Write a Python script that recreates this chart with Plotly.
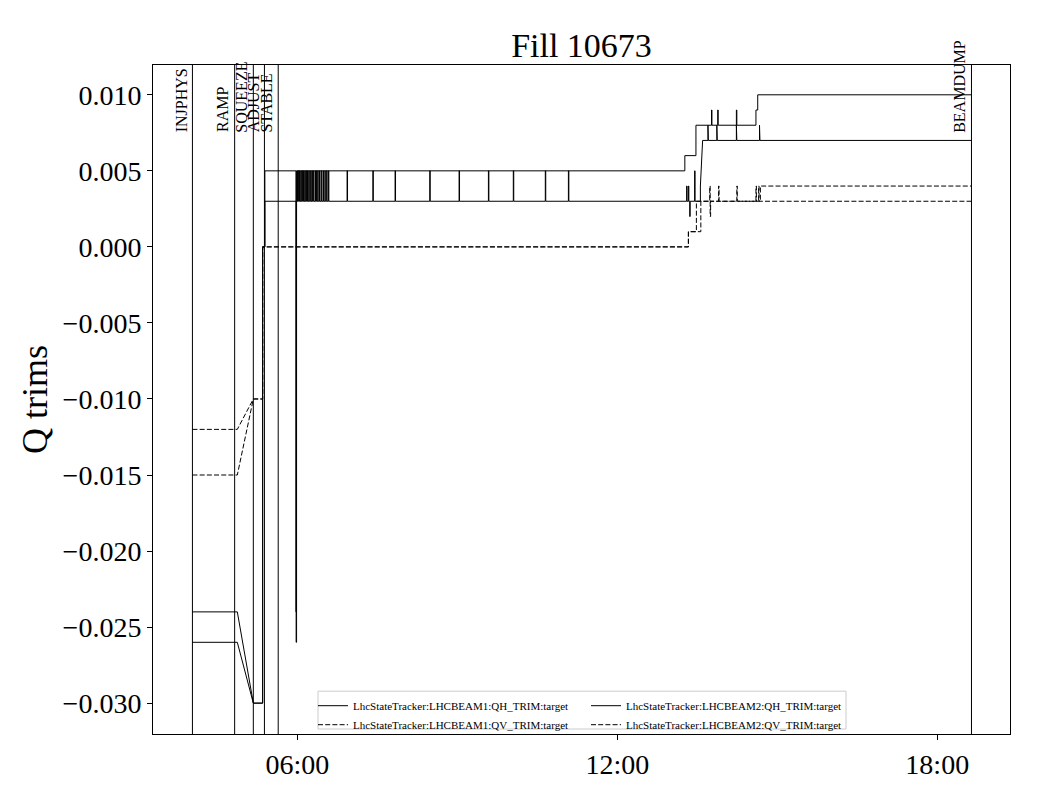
import numpy as np
import pandas as pd
import plotly.graph_objects as go

# ---------------- data ----------------
DATE = "2025-05-26"
TITLE = "Fill 10673"
Y_LABEL = "Q trims"

PHASE_NAMES = ["INJPHYS", "RAMP", "SQUEEZE", "ADJUST", "STABLE", "BEAMDUMP"]
PHASE_TIMES = ["04:02:00", "04:49:30", "05:10:30", "05:23:00", "05:38:30", "18:38:30"]

NAME_B1_QH = "LhcStateTracker:LHCBEAM1:QH_TRIM:target"
NAME_B1_QV = "LhcStateTracker:LHCBEAM1:QV_TRIM:target"
NAME_B2_QH = "LhcStateTracker:LHCBEAM2:QH_TRIM:target"
NAME_B2_QV = "LhcStateTracker:LHCBEAM2:QV_TRIM:target"

# knots (time, value), drawn with straight segments; a repeated time is a step
B1_QH_T = ["04:02:00", "04:52:30", "05:10:30", "05:21:00", "05:21:00", "05:23:30", "05:23:30",
           "13:16:00", "13:16:00", "13:28:30", "13:28:30", "14:36:00", "14:36:00",
           "14:38:00", "14:38:00", "18:38:30"]
B1_QH_V = [-0.024, -0.024, -0.030, -0.030, 0.000, 0.000, 0.005,
           0.005, 0.006, 0.006, 0.008, 0.008, 0.009,
           0.009, 0.010, 0.010]
B1_QH_SPIKE_T = ["05:58:30", "13:46:00", "13:53:00", "14:14:00"]
B1_QH_SPIKE_V = [-0.024, 0.009, 0.009, 0.009]

B2_QH_T = ["04:02:00", "04:52:30", "05:10:30", "05:21:00", "05:21:00", "05:23:30", "05:23:30",
           "13:33:30", "13:33:30", "13:36:00", "18:38:30"]
B2_QH_V = [-0.026, -0.026, -0.030, -0.030, 0.000, 0.000, 0.003,
           0.003, 0.004, 0.007, 0.007]
B2_QH_SPIKE_T = ["05:58:40", "05:59:40", "06:01:00", "06:02:30", "06:04:00", "06:05:30",
                 "06:07:00", "06:08:30", "06:10:00", "06:11:30", "06:13:00", "06:15:00",
                 "06:16:30", "06:18:00", "06:20:00", "06:21:30", "06:23:00", "06:25:00",
                 "06:27:00", "06:29:00", "06:31:00", "06:33:00", "06:35:00",
                 "06:56:00", "07:25:00", "07:50:00", "08:29:00", "09:02:00", "09:35:00",
                 "10:03:00", "10:39:00", "11:05:00",
                 "13:18:00", "13:20:00", "13:21:30", "13:27:00",
                 "13:42:00", "13:52:00", "14:14:00", "14:40:00"]
B2_QH_SPIKE_V = [-0.026, 0.005, 0.005, 0.005, 0.005, 0.005,
                 0.005, 0.005, 0.005, 0.005, 0.005, 0.005,
                 0.005, 0.005, 0.005, 0.005, 0.005, 0.005,
                 0.005, 0.005, 0.005, 0.005, 0.005,
                 0.005, 0.005, 0.005, 0.005, 0.005, 0.005,
                 0.005, 0.005, 0.005,
                 0.004, 0.004, 0.002, 0.005,
                 0.008, 0.008, 0.008, 0.008]

B1_QV_T = ["04:02:00", "04:52:30", "05:10:30", "05:21:00", "05:21:00",
           "13:20:00", "13:20:00", "13:29:00", "13:29:00", "14:41:00", "14:41:00", "18:38:30"]
B1_QV_V = [-0.012, -0.012, -0.010, -0.010, 0.000,
           0.000, 0.001, 0.001, 0.003, 0.003, 0.004, 0.004]
B1_QV_SPIKE_T = ["13:44:00", "13:54:00", "14:14:30", "14:36:00"]
B1_QV_SPIKE_V = [0.004, 0.004, 0.004, 0.004]

B2_QV_T = ["04:02:00", "04:52:30", "05:10:30", "05:21:00", "05:21:00",
           "13:20:00", "13:20:00", "13:34:00", "13:34:00", "18:38:30"]
B2_QV_V = [-0.015, -0.015, -0.010, -0.010, 0.000,
           0.000, 0.001, 0.001, 0.003, 0.003]
B2_QV_SPIKE_T = ["13:44:30", "14:39:00"]
B2_QV_SPIKE_V = [0.002, 0.004]

X_RANGE = ["03:17:38", "19:21:50"]
Y_RANGE = [-0.03203, 0.01196]
Y_TICKS = [-0.030, -0.025, -0.020, -0.015, -0.010, -0.005, 0.000, 0.005, 0.010]
LABEL_Y = 0.00740


def ts(s):
    return pd.Timestamp(f"{DATE} {s}")


def build(knot_t, knot_v, spike_t, spike_v, width_s=30):
    kt = [ts(s) for s in knot_t]
    pts = [(t, v, i) for i, (t, v) in enumerate(zip(kt, knot_v))]
    kx = np.array([t.value for t in kt], dtype=float)
    kv = np.array(knot_v, dtype=float)
    for j, (s, sv) in enumerate(zip(spike_t, spike_v)):
        t0 = ts(s)
        t1 = t0 + pd.Timedelta(seconds=width_s)
        base = float(np.interp(t0.value, kx, kv))
        for k, (t, v) in enumerate([(t0, base), (t0, sv), (t1, sv), (t1, base)]):
            pts.append((t, v, 1000 + j * 10 + k))
    pts.sort(key=lambda p: (p[0], p[2]))
    return [p[0] for p in pts], [p[1] for p in pts]


SERIES = [
    (NAME_B1_QH, B1_QH_T, B1_QH_V, B1_QH_SPIKE_T, B1_QH_SPIKE_V, "solid", "legend"),
    (NAME_B1_QV, B1_QV_T, B1_QV_V, B1_QV_SPIKE_T, B1_QV_SPIKE_V, "5px,2.2px", "legend"),
    (NAME_B2_QH, B2_QH_T, B2_QH_V, B2_QH_SPIKE_T, B2_QH_SPIKE_V, "solid", "legend2"),
    (NAME_B2_QV, B2_QV_T, B2_QV_V, B2_QV_SPIKE_T, B2_QV_SPIKE_V, "5px,2.2px", "legend2"),
]

FONT = "Liberation Serif"

fig = go.Figure()
for name, kt, kv, st, sv, dash, leg in SERIES:
    x, y = build(kt, kv, st, sv)
    fig.add_trace(go.Scatter(x=x, y=y, mode="lines", name=name, legend=leg,
                             line=dict(color="black", width=1, dash=dash)))

shapes = []
annotations = []
for name, t in zip(PHASE_NAMES, PHASE_TIMES):
    shapes.append(dict(type="line", xref="x", yref="paper", x0=ts(t), x1=ts(t), y0=0, y1=1,
                       line=dict(color="black", width=1), layer="above"))
    annotations.append(dict(x=ts(t), y=LABEL_Y, xref="x", yref="y", text=name, textangle=-90,
                            xanchor="right", yanchor="bottom", showarrow=False, xshift=-1,
                            font=dict(family=FONT, size=16, color="black")))

# the page body adds an 8 px offset; the figure is sized so that the plot area
# lands at x 153..1010, y 65..737 of the 1040x800 window
OFF = 8
W, H = 1024, 784
ML, MR, MT, MB = 153 - OFF, 22, 65 - OFF, 55
PW, PH = W - ML - MR, H - MT - MB


def px_x(p):
    return (p - OFF - ML) / PW


def px_y(p):
    return (H - MB - (p - OFF)) / PH


# legend frame
shapes.append(dict(type="rect", xref="paper", yref="paper",
                   x0=px_x(318), x1=px_x(846), y0=px_y(732), y1=px_y(694),
                   line=dict(color="#cccccc", width=1), fillcolor="rgba(255,255,255,0.85)",
                   layer="above"))

LEG_FONT = dict(family=FONT, size=11, color="black")
fig.update_layout(
    width=W, height=H,
    margin=dict(l=ML, r=MR, t=MT, b=MB),
    paper_bgcolor="white", plot_bgcolor="white",
    font=dict(family=FONT, color="black"),
    title=dict(text=TITLE, x=px_x(581.5), xref="paper", xanchor="center",
               y=1 - (45 - OFF) / H, yref="container", yanchor="middle",
               font=dict(family=FONT, size=34, color="black")),
    shapes=shapes,
    annotations=annotations,
    showlegend=True,
    legend=dict(x=px_x(313), xanchor="left", y=px_y(694), yanchor="top",
                bgcolor="rgba(0,0,0,0)", borderwidth=0, font=LEG_FONT, tracegroupgap=0),
    legend2=dict(x=px_x(586), xanchor="left", y=px_y(694), yanchor="top",
                 bgcolor="rgba(0,0,0,0)", borderwidth=0, font=LEG_FONT, tracegroupgap=0),
)

fig.update_xaxes(
    type="date", range=[ts(X_RANGE[0]), ts(X_RANGE[1])],
    tickformat="%H:%M", dtick=6 * 3600 * 1000, tick0=ts("00:00:00"),
    showgrid=False, zeroline=False, showline=True, linecolor="black", linewidth=1,
    mirror=True, ticks="outside", ticklen=5, tickcolor="black", tickwidth=1,
    tickfont=dict(family=FONT, size=28, color="black"),
)
fig.update_yaxes(
    range=Y_RANGE, tickvals=Y_TICKS, tickformat=".3f",
    showgrid=False, zeroline=False, showline=True, linecolor="black", linewidth=1,
    mirror=True, ticks="outside", ticklen=5, tickcolor="black", tickwidth=1,
    tickfont=dict(family=FONT, size=28, color="black"),
    title=dict(text=Y_LABEL, standoff=4, font=dict(family=FONT, size=36, color="black")),
)

fig.write_html("out.html")
